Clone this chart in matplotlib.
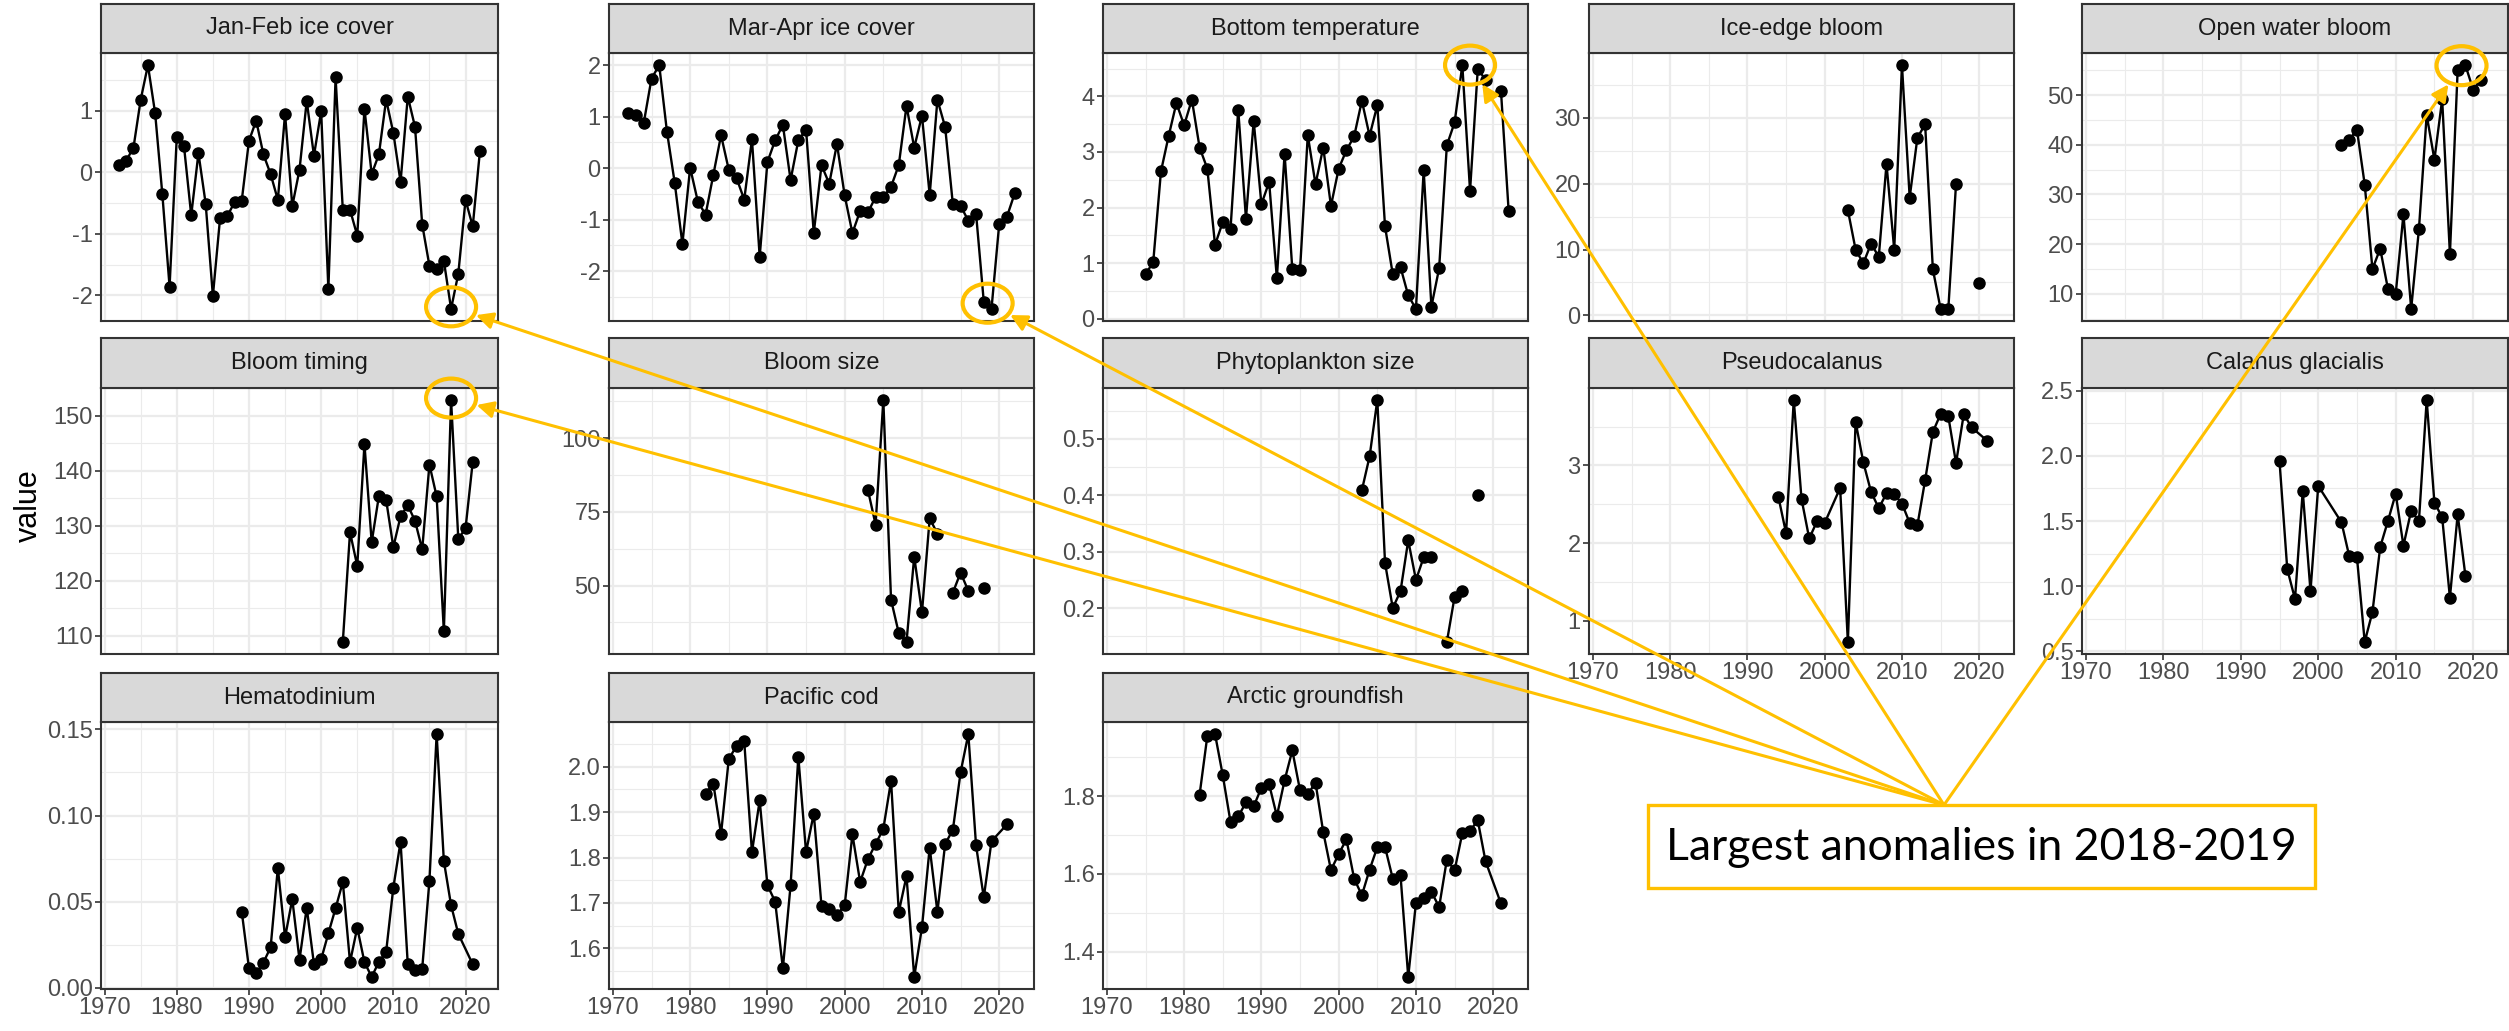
import numpy as np
import matplotlib
matplotlib.use("Agg")
import matplotlib.pyplot as plt
from matplotlib.patches import Ellipse, Rectangle, FancyArrowPatch
from matplotlib.ticker import MultipleLocator, FixedLocator, FormatStrFormatter
from matplotlib.transforms import IdentityTransform

nan = np.nan

# --- data ---

jan_feb_years = list(range(1972, 2023))
jan_feb_ice = [0.12, 0.19, 0.40, 1.18, 1.74, 0.96, -0.36, -1.86, 0.58, 0.42,
               -0.70, 0.31, -0.51, -2.01, -0.74, -0.71, -0.49, -0.46, 0.51, 0.84,
               0.29, -0.03, -0.45, 0.95, -0.55, 0.04, 1.16, 0.27, 0.99, -1.90,
               1.54, -0.61, -0.61, -1.03, 1.03, -0.03, 0.29, 1.18, 0.64, -0.16,
               1.23, 0.74, -0.85, -1.52, -1.57, -1.44, -2.22, -1.65, -0.45, -0.88,
               0.35]

mar_apr_years = list(range(1972, 2023))
mar_apr_ice = [1.08, 1.03, 0.88, 1.74, 2.00, 0.71, -0.28, -1.47, 0.01, -0.65,
               -0.90, -0.13, 0.64, -0.03, -0.19, -0.61, 0.56, -1.72, 0.12, 0.54,
               0.84, -0.23, 0.54, 0.75, -1.26, 0.06, -0.30, 0.47, -0.53, -1.26,
               -0.83, -0.86, -0.56, -0.56, -0.36, 0.06, 1.21, 0.40, 1.02, -0.52,
               1.33, 0.80, -0.70, -0.73, -1.02, -0.88, -2.59, -2.73, -1.08, -0.94,
               -0.49]

bottom_temp_years = list(range(1975, 2023))
bottom_temp = [0.80, 1.02, 2.65, 3.29, 3.88, 3.48, 3.94, 3.08, 2.70, 1.33,
               1.74, 1.61, 3.76, 1.80, 3.56, 2.06, 2.46, 0.73, 2.97, 0.89,
               0.88, 3.30, 2.42, 3.08, 2.03, 2.70, 3.03, 3.28, 3.92, 3.29,
               3.84, 1.66, 0.80, 0.93, 0.42, 0.18, 2.67, 0.22, 0.91, 3.12,
               3.53, 4.56, 2.30, 4.49, 4.30, nan, 4.10, 1.93]

ice_edge_years = list(range(2003, 2019)) + [2020]
ice_edge_bloom = [16.0, 10.0, 7.9, 10.9, 8.9, 23.0, 10.0, 38.0, 17.9, 27.0,
                  29.0, 7.0, 1.0, 1.0, 20.0, nan, 4.9]

open_water_years = list(range(2003, 2022))
open_water_bloom = [39.9, 41.0, 43.0, 32.0, 15.0, 19.1, 11.0, 10.0, 26.0, 7.0,
                    23.0, 46.0, 37.0, 49.1, 18.0, 55.0, 56.0, 51.1, 53.0]

bloom_timing_years = list(range(2003, 2022))
bloom_timing = [108.9, 128.8, 122.7, 144.8, 127.0, 135.4, 134.7, 126.1, 131.7, 133.7,
                130.9, 125.7, 141.1, 135.3, 110.8, 152.8, 127.6, 129.5, 141.6]

bloom_size_years = list(range(2003, 2019))
bloom_size = [82.5, 70.7, 112.9, 45.2, 33.9, 30.9, 59.8, 40.9, 72.8, 67.6,
              nan, 47.6, 54.4, 48.2, nan, 49.3]

phyto_years = list(range(2003, 2019))
phyto_size = [0.409, 0.469, 0.569, 0.280, 0.200, 0.230, 0.320, 0.250, 0.290, 0.290,
              nan, 0.140, 0.220, 0.230, nan, 0.400]

pseudo_years = list(range(1994, 2001)) + list(range(2002, 2020)) + [2021]
pseudocalanus = [2.60, 2.13, 3.84, 2.57, 2.06, 2.28, 2.26, 2.71, 0.73, 3.56,
                 3.04, 2.66, 2.45, 2.64, 2.63, 2.51, 2.26, 2.23, 2.81, 3.43,
                 3.66, 3.63, 3.03, 3.66, 3.49, 3.32]

calanus_years = list(range(1995, 2001)) + list(range(2003, 2020))
calanus = [1.96, 1.13, 0.90, 1.73, 0.96, 1.77, 1.49, 1.23, 1.22, 0.57,
           0.80, 1.30, 1.50, 1.71, 1.31, 1.58, 1.50, 2.43, 1.64, 1.53,
           0.91, 1.55, 1.08]

hemato_years = list(range(1989, 2020)) + [2021]
hematodinium = [0.0441, 0.0112, 0.0083, 0.0145, 0.0234, 0.0695, 0.0292, 0.0513, 0.0161, 0.0464,
                0.0137, 0.0164, 0.0315, 0.0461, 0.0613, 0.0147, 0.0348, 0.0147, 0.0062, 0.0149,
                0.0207, 0.0581, 0.0848, 0.0135, 0.0099, 0.0110, 0.0621, 0.1473, 0.0735, 0.0478,
                0.0312, 0.0135]

cod_years = list(range(1982, 2020)) + [2021]
pacific_cod = [1.941, 1.963, 1.852, 2.017, 2.046, 2.056, 1.812, 1.926, 1.739, 1.703,
               1.556, 1.739, 2.022, 1.812, 1.897, 1.693, 1.687, 1.673, 1.695, 1.851,
               1.746, 1.796, 1.830, 1.863, 1.969, 1.680, 1.759, 1.537, 1.646, 1.822,
               1.680, 1.830, 1.861, 1.988, 2.072, 1.827, 1.712, 1.836, 1.873]

arctic_years = list(range(1982, 2020)) + [2021]
arctic_groundfish = [1.804, 1.955, 1.960, 1.854, 1.734, 1.748, 1.784, 1.774, 1.822, 1.831,
                     1.749, 1.841, 1.918, 1.815, 1.805, 1.835, 1.708, 1.610, 1.651, 1.689,
                     1.588, 1.545, 1.611, 1.669, 1.669, 1.588, 1.597, 1.335, 1.526, 1.538,
                     1.554, 1.515, 1.637, 1.609, 1.705, 1.711, 1.738, 1.633, 1.524]

x_ticks = [1970, 1980, 1990, 2000, 2010, 2020]

# --- layout (pixels, origin top-left) ---
W, H = 2509, 1031
col_x = [(101, 498), (609, 1034), (1103, 1528), (1589, 2014), (2082, 2508)]
row_y = [(4, 53, 321), (338, 388, 654), (673, 722, 989)]

GOLD = "#FFC000"
BORDER = "#333333"
GRID = "#EBEBEB"
TICKTXT = "#4D4D4D"

plt.rcParams["font.family"] = ["Liberation Sans", "DejaVu Sans"]

fig = plt.figure(figsize=(W / 100, H / 100), dpi=100)


def px_axes(left, top, right, bottom):
    return fig.add_axes([left / W, 1 - bottom / H, (right - left) / W, (bottom - top) / H])


panels = [
    ("Jan-Feb ice cover", jan_feb_years, jan_feb_ice, [-2, -1, 0, 1], "%d", 0, 0, False),
    ("Mar-Apr ice cover", mar_apr_years, mar_apr_ice, [-2, -1, 0, 1, 2], "%d", 0, 1, False),
    ("Bottom temperature", bottom_temp_years, bottom_temp, [0, 1, 2, 3, 4], "%d", 0, 2, False),
    ("Ice-edge bloom", ice_edge_years, ice_edge_bloom, [0, 10, 20, 30], "%d", 0, 3, False),
    ("Open water bloom", open_water_years, open_water_bloom, [10, 20, 30, 40, 50], "%d", 0, 4, False),
    ("Bloom timing", bloom_timing_years, bloom_timing, [110, 120, 130, 140, 150], "%d", 1, 0, False),
    ("Bloom size", bloom_size_years, bloom_size, [50, 75, 100], "%d", 1, 1, False),
    ("Phytoplankton size", phyto_years, phyto_size, [0.2, 0.3, 0.4, 0.5], "%.1f", 1, 2, False),
    ("Pseudocalanus", pseudo_years, pseudocalanus, [1, 2, 3], "%d", 1, 3, True),
    ("Calanus glacialis", calanus_years, calanus, [0.5, 1.0, 1.5, 2.0, 2.5], "%.1f", 1, 4, True),
    ("Hematodinium", hemato_years, hematodinium, [0.0, 0.05, 0.10, 0.15], "%.2f", 2, 0, True),
    ("Pacific cod", cod_years, pacific_cod, [1.6, 1.7, 1.8, 1.9, 2.0], "%.1f", 2, 1, True),
    ("Arctic groundfish", arctic_years, arctic_groundfish, [1.4, 1.6, 1.8], "%.1f", 2, 2, True),
]

axes = {}
for title, yrs, vals, yt, fmt, r, c, show_x in panels:
    x0, x1 = col_x[c]
    s_top, p_top, p_bot = row_y[r]
    ax = px_axes(x0, p_top, x1, p_bot)
    ax.plot(yrs, vals, color="black", lw=1.7, marker="o", ms=8, zorder=3, clip_on=False)

    v = np.array(vals, dtype=float)
    lo, hi = np.nanmin(v), np.nanmax(v)
    pad = 0.05 * (hi - lo)
    ax.set_xlim(1969.5, 2024.5)
    step = yt[1] - yt[0]
    ax.yaxis.set_major_locator(FixedLocator(yt))
    ax.yaxis.set_major_formatter(FormatStrFormatter(fmt))
    ax.yaxis.set_minor_locator(MultipleLocator(step / 2))
    ax.xaxis.set_major_locator(FixedLocator(x_ticks))
    ax.xaxis.set_minor_locator(MultipleLocator(5))
    ax.set_ylim(lo - pad, hi + pad)

    ax.grid(which="major", color=GRID, lw=1.6, zorder=0)
    ax.grid(which="minor", color=GRID, lw=0.8, zorder=0)
    ax.set_axisbelow(True)
    for sp in ax.spines.values():
        sp.set_color(BORDER)
        sp.set_linewidth(1.5)
    ax.tick_params(which="minor", length=0)
    ax.tick_params(which="major", length=4, width=1.2, color=BORDER,
                   labelsize=17, labelcolor=TICKTXT, pad=2)
    if not show_x:
        ax.tick_params(axis="x", which="major", length=0, labelbottom=False)

    # strip
    sx = px_axes(x0, s_top, x1, p_top)
    sx.set_facecolor("#D9D9D9")
    sx.set_xticks([])
    sx.set_yticks([])
    for sp in sx.spines.values():
        sp.set_color(BORDER)
        sp.set_linewidth(1.5)
    sx.text(0.5, 0.5, title, ha="center", va="center", fontsize=17, color="#1A1A1A",
            transform=sx.transAxes)
    axes[title] = ax

fig.text(29 / W, 1 - 506 / H, "value", rotation=90, ha="center", va="center",
         fontsize=22, color="black")

# --- callouts: circles round the 2018-2019 anomalies, arrows to the note ---
callouts = [
    ("Jan-Feb ice cover", [2018]),
    ("Mar-Apr ice cover", [2018, 2019]),
    ("Bottom temperature", [2016, 2018]),
    ("Open water bloom", [2018, 2019]),
    ("Bloom timing", [2018]),
]
series = {p[0]: (p[1], p[2]) for p in panels}
origin = np.array([1944.0, H - 805.0])
ew, eh = 50.0, 39.0

for title, yrs_c in callouts:
    yrs, vals = series[title]
    pts = np.array([axes[title].transData.transform((y, vals[yrs.index(y)])) for y in yrs_c])
    cen = pts.mean(axis=0) + np.array([0.0, 2.0])
    fig.add_artist(Ellipse(cen, ew, eh, fill=False, ec=GOLD, lw=3.0,
                           transform=IdentityTransform(), zorder=6))
    d = origin - cen
    d = d / np.hypot(*d)
    t = 1.0 / np.sqrt((d[0] / (ew / 2)) ** 2 + (d[1] / (eh / 2)) ** 2) + 2
    tip = cen + t * d
    fig.add_artist(FancyArrowPatch(tuple(origin), tuple(tip), arrowstyle="-|>,head_length=0.5,head_width=0.25",
                                   mutation_scale=20, color=GOLD, lw=2.2, shrinkA=0, shrinkB=0,
                                   transform=IdentityTransform(), zorder=7))

box_l, box_t, box_r, box_b = 1648, 805, 2315, 888
fig.add_artist(Rectangle((box_l, H - box_b), box_r - box_l, box_b - box_t, facecolor="white",
                         edgecolor=GOLD, lw=2.4, transform=IdentityTransform(), zorder=8))
fig.text((box_l + box_r) / 2 / W, 1 - 848 / H, "Largest anomalies in 2018-2019",
         ha="center", va="center", fontsize=32, family=["Lato", "DejaVu Sans"],
         color="black", zorder=9)

fig.savefig("out.png", dpi=100)
